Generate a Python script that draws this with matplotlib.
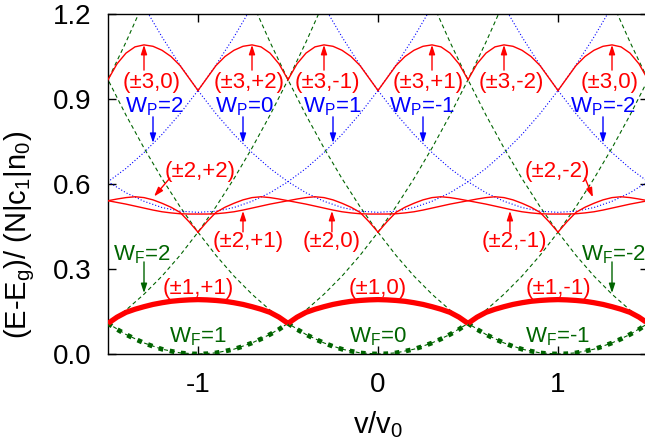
import matplotlib
matplotlib.use("Agg")
import matplotlib.pyplot as plt
import numpy as np

plt.rcParams['font.family'] = ['Liberation Sans', 'DejaVu Sans']
plt.rcParams['mathtext.default'] = 'regular'

# ---------------- data ----------------
# offsets from a branch centre (v - centre), in units of v0
d_par = [-1.8, -1.7, -1.6, -1.5, -1.4, -1.3, -1.2, -1.1, -1.0, -0.9, -0.8, -0.7, -0.6, -0.5,
         -0.4, -0.3, -0.2, -0.1, 0.0, 0.1, 0.2, 0.3, 0.4, 0.5, 0.6, 0.7, 0.8, 0.9, 1.0,
         1.1, 1.2, 1.3, 1.4, 1.5, 1.6, 1.7, 1.8]
# W_F (green dashed) branch energy along d_par
e_F = [1.393, 1.243, 1.101, 0.968, 0.843, 0.727, 0.619, 0.520, 0.430, 0.348, 0.275, 0.211,
       0.155, 0.108, 0.069, 0.039, 0.017, 0.004, 0.000, 0.004, 0.017, 0.039, 0.069, 0.108,
       0.155, 0.211, 0.275, 0.348, 0.430, 0.520, 0.619, 0.727, 0.843, 0.968, 1.101, 1.243, 1.393]
# W_P (blue dotted) branch energy along d_par
e_P = [1.893, 1.743, 1.601, 1.468, 1.343, 1.227, 1.119, 1.020, 0.930, 0.848, 0.775, 0.711,
       0.655, 0.608, 0.569, 0.539, 0.517, 0.504, 0.500, 0.504, 0.517, 0.539, 0.569, 0.608,
       0.655, 0.711, 0.775, 0.848, 0.930, 1.020, 1.119, 1.227, 1.343, 1.468, 1.601, 1.743, 1.893]
W_F_list = [3, 2, 1, 0, -1, -2, -3]
W_P_list = [2, 1, 0, -1, -2]

# lowest branch (thick green dotted) and (+-1,W) states (thick red)
d_1 = [-0.5, -0.45, -0.4, -0.35, -0.3, -0.25, -0.2, -0.15, -0.1, -0.05, 0.0,
       0.05, 0.1, 0.15, 0.2, 0.25, 0.3, 0.35, 0.4, 0.45, 0.5]
e_low = [0.108, 0.087, 0.069, 0.053, 0.039, 0.027, 0.017, 0.010, 0.004, 0.001, 0.000,
         0.001, 0.004, 0.010, 0.017, 0.027, 0.039, 0.053, 0.069, 0.087, 0.108]
e_1 = [0.108, 0.130, 0.147, 0.158, 0.167, 0.175, 0.181, 0.186, 0.189, 0.191, 0.192,
       0.191, 0.189, 0.186, 0.181, 0.175, 0.167, 0.158, 0.147, 0.130, 0.108]
W_1 = [1, 0, -1]

# (+-2,W) states
d_2 = [-1.0, -0.95, -0.9, -0.85, -0.8, -0.75, -0.7, -0.65, -0.6, -0.55, -0.5, -0.45, -0.4,
       -0.35, -0.3, -0.25, -0.2, -0.15, -0.1, -0.05, 0.0, 0.05, 0.1, 0.15, 0.2, 0.25, 0.3,
       0.35, 0.4, 0.45, 0.5, 0.55, 0.6, 0.65, 0.7, 0.75, 0.8, 0.85, 0.9, 0.95, 1.0]
e_2 = [0.430, 0.467, 0.500, 0.518, 0.532, 0.544, 0.552, 0.555, 0.552, 0.547, 0.541, 0.535,
       0.529, 0.522, 0.515, 0.508, 0.502, 0.498, 0.495, 0.494, 0.494, 0.494, 0.495, 0.498,
       0.502, 0.508, 0.515, 0.522, 0.529, 0.535, 0.541, 0.547, 0.552, 0.555, 0.552, 0.544,
       0.532, 0.518, 0.500, 0.467, 0.430]
W_2 = [2, 1, 0, -1, -2]

# (+-3,W) states (right-hand piece, mirrored for the left-hand piece)
d_3 = [1.0, 1.05, 1.1, 1.15, 1.2, 1.25, 1.3, 1.35, 1.4, 1.45, 1.5]
e_3 = [0.930, 0.974, 1.018, 1.050, 1.072, 1.086, 1.091, 1.084, 1.062, 1.024, 0.968]
W_3 = [2, 1, 0, -1, -2]

x_ticks = [-1, 0, 1]
x_ticklabels = ['-1', '0', '1']
y_ticks = [0.0, 0.3, 0.6, 0.9, 1.2]
y_ticklabels = ['0.0', '0.3', '0.6', '0.9', '1.2']

# annotations: text, text position (v, E baseline), arrow start, arrow tip
red_labels = ['(±3,0)', '(±3,+2)', '(±3,-1)', '(±3,+1)', '(±3,-2)', '(±3,0)',
              '(±2,+2)', '(±2,-2)', '(±2,+1)', '(±2,0)', '(±2,-1)',
              '(±1,+1)', '(±1,0)', '(±1,-1)']
red_pos = [(-1.256, 0.939), (-0.717, 0.939), (-0.283, 0.939), (0.278, 0.939), (0.739, 0.939),
           (1.289, 0.939), (-0.989, 0.625), (0.994, 0.625), (-0.722, 0.378), (-0.256, 0.378),
           (0.756, 0.378), (-1.0, 0.212), (0.0, 0.212), (1.0, 0.212)]
red_arrows = [((-1.3, 1.002), (-1.3, 1.091)), ((-0.7, 1.002), (-0.7, 1.091)),
              ((-0.3, 1.002), (-0.3, 1.091)), ((0.3, 1.002), (0.3, 1.091)),
              ((0.7, 1.002), (0.7, 1.091)), ((1.3, 1.002), (1.3, 1.091)),
              ((-1.156, 0.621), (-1.244, 0.556)), ((1.15, 0.621), (1.194, 0.553)),
              ((-0.75, 0.431), (-0.75, 0.505)), ((-0.256, 0.431), (-0.256, 0.505)),
              ((0.733, 0.431), (0.733, 0.505)), None, None, None]

blue_labels = ['W$_{P}$=2', 'W$_{P}$=0', 'W$_{P}$=1', 'W$_{P}$=-1', 'W$_{P}$=-2']
blue_pos = [(-1.244, 0.851), (-0.744, 0.851), (-0.256, 0.851), (0.244, 0.851), (1.25, 0.851)]
blue_arrows = [((-1.25, 0.837), (-1.25, 0.745)), ((-0.75, 0.837), (-0.75, 0.745)),
               ((-0.25, 0.837), (-0.25, 0.745)), ((0.25, 0.837), (0.25, 0.745)),
               ((1.25, 0.837), (1.25, 0.745))]

green_labels = ['W$_{F}$=2', 'W$_{F}$=-2', 'W$_{F}$=1', 'W$_{F}$=0', 'W$_{F}$=-1']
green_pos = [(-1.311, 0.332), (1.311, 0.332), (-1.0, 0.042), (0.0, 0.042), (1.0, 0.042)]
green_arrows = [((-1.3, 0.325), (-1.3, 0.215)), ((1.3, 0.325), (1.3, 0.215)), None, None, None]

RED = '#ff0000'
BLUE = '#0000ff'
GREEN = '#006400'

# ---------------- figure ----------------
fig = plt.figure(figsize=(6.45, 4.41), dpi=100)
ax = fig.add_axes([108 / 645, 87 / 441, 540 / 645, 340 / 441])

dp = np.array(d_par)
for w in W_F_list:
    ax.plot(dp - w, e_F, color=GREEN, lw=0.8, linestyle=(0, (3.6, 2.7)), zorder=2)
for w in W_P_list:
    ax.plot(dp - w, e_P, color=BLUE, lw=0.8, linestyle=(0, (1, 1.8)), zorder=2)

d2 = np.array(d_2)
for w in W_2:
    ax.plot(d2 - w, e_2, color=RED, lw=1.0, zorder=3)
d3 = np.array(d_3)
for w in W_3:
    ax.plot(d3 - w, e_3, color=RED, lw=1.0, zorder=3)
    ax.plot(-d3 - w, e_3, color=RED, lw=1.0, zorder=3)

d1 = np.array(d_1)
for w in W_1:
    ax.plot(d1 - w, e_low, color=GREEN, lw=3.4, linestyle=(0, (1, 1.4)), zorder=4)
for w in W_1:
    ax.plot(d1 - w, e_1, color=RED, lw=3.8, solid_capstyle='butt', zorder=5)

ax.set_xlim(-1.5, 1.5)
ax.set_ylim(0, 1.2)
ax.set_xticks(x_ticks)
ax.set_xticklabels(x_ticklabels)
ax.set_yticks(y_ticks)
ax.set_yticklabels(y_ticklabels)
ax.tick_params(direction='in', length=6, width=1, top=True, right=True, labelsize=20)
ax.tick_params(axis='x', pad=13)
ax.tick_params(axis='y', pad=12)
for s in ax.spines.values():
    s.set_linewidth(1.0)

arrow_kw = dict(arrowstyle='-|>,head_length=0.55,head_width=0.18', lw=1.0,
                shrinkA=0, shrinkB=0, mutation_scale=10)


def put(labels, pos, arrows, color):
    for t, (x, y), a in zip(labels, pos, arrows):
        ax.text(x, y, t, color=color, fontsize=16, ha='center', va='baseline', zorder=6)
        if a is not None:
            ax.annotate('', xy=a[1], xytext=a[0],
                        arrowprops=dict(color=color, **arrow_kw), zorder=6)


put(red_labels, red_pos, red_arrows, RED)
put(blue_labels, blue_pos, blue_arrows, BLUE)
put(green_labels, green_pos, green_arrows, GREEN)

fig.text(20 / 645, 1 - 235 / 441, '(E-E$_{g}$)/ (N|c$_{1}$|n$_{0}$)', rotation=90,
         ha='center', va='center', fontsize=21)
fig.text(378 / 645, 8 / 441, 'v/v$_{0}$', ha='center', va='baseline', fontsize=21)

fig.savefig('out.png', dpi=100)
